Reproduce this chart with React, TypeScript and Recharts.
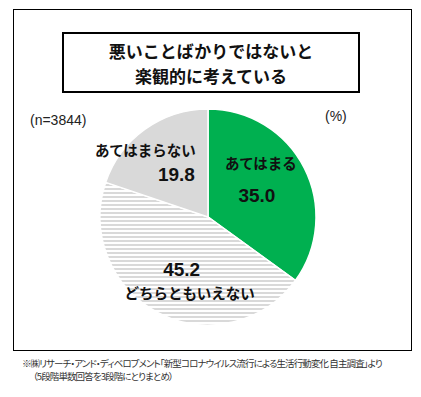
import { PieChart, Pie, Cell } from 'recharts';

// 悪いことばかりではないと楽観的に考えている (n=3844, %)
const categories = ['あてはまる', 'どちらともいえない', 'あてはまらない'];
const values = [35.0, 45.2, 19.8];
const fills = ['#00b050', 'url(#stripes)', '#d9d9d9'];

const pieData = categories.map((name, i) => ({ name, value: values[i] }));

// label placement: anchor on the slice bisector, then nudge name/value
const labelLayout = [
  { k: 0.55, name: [0, -28], value: [-4, 5] },
  { k: 0.55, name: [9, 23], value: [1, 0] },
  { k: 0.55, name: [-28, -19], value: [3, 6] },
];

const RAD = Math.PI / 180;
const jp = '"Noto Sans CJK JP", sans-serif';
const num = '"Liberation Sans", Arial, sans-serif';

const renderLabel = (props: any) => {
  const { cx, cy, midAngle, outerRadius, index } = props;
  const lay = labelLayout[index];
  const r = outerRadius * lay.k;
  const ax = cx + r * Math.cos(-midAngle * RAD);
  const ay = cy + r * Math.sin(-midAngle * RAD);
  return (
    <g>
      <text
        x={ax + lay.name[0]}
        y={ay + lay.name[1]}
        textAnchor="middle"
        dominantBaseline="central"
        fontFamily={jp}
        fontWeight="bold"
        fontSize={14.5}
        fill="#111"
      >
        {categories[index]}
      </text>
      <text
        x={ax + lay.value[0]}
        y={ay + lay.value[1]}
        textAnchor="middle"
        dominantBaseline="central"
        fontFamily={num}
        fontWeight="bold"
        fontSize={19}
        fill="#111"
      >
        {values[index].toFixed(1)}
      </text>
    </g>
  );
};

export default function App() {
  return (
    <div style={{ position: 'absolute', left: 0, top: 0, width: 421, height: 397, background: '#fff', fontFamily: jp }}>
      <div style={{ position: 'absolute', left: 13, top: 9, width: 397, height: 340, border: '1px solid #000' }} />

      <div style={{ position: 'absolute', left: 0, top: 0 }}>
        <PieChart width={421} height={397} margin={{ top: 0, right: 0, bottom: 0, left: 0 }}>
          <defs>
            <pattern id="stripes" width={4} height={4} patternUnits="userSpaceOnUse">
              <rect x={0} y={0} width={4} height={4} fill="#fff" />
              <rect x={0} y={0} width={4} height={2} fill="#d9d9d9" />
            </pattern>
          </defs>
          <Pie
            data={pieData}
            dataKey="value"
            cx={208}
            cy={217}
            outerRadius={108}
            startAngle={90}
            endAngle={-270}
            stroke="#fff"
            strokeWidth={1.5}
            labelLine={false}
            label={renderLabel}
            isAnimationActive={false}
          >
            {pieData.map((_, idx) => (
              <Cell key={idx} fill={fills[idx]} />
            ))}
          </Pie>
        </PieChart>
      </div>

      <div
        style={{
          position: 'absolute',
          left: 62,
          top: 32,
          width: 294,
          height: 57,
          border: '2px solid #000',
          background: '#fff',
          display: 'flex',
          flexDirection: 'column',
          alignItems: 'center',
          justifyContent: 'center',
          fontWeight: 'bold',
          fontSize: 17,
          lineHeight: '25px',
          color: '#111',
        }}
      >
        <div>悪いことばかりではないと</div>
        <div>楽観的に考えている</div>
      </div>

      <div style={{ position: 'absolute', left: 30, top: 112, fontSize: 14, color: '#222', fontFamily: num }}>(n=3844)</div>
      <div style={{ position: 'absolute', left: 325, top: 108, fontSize: 14, color: '#222', fontFamily: num }}>(%)</div>

      <div
        style={{
          position: 'absolute',
          left: 22,
          top: 357,
          fontSize: 9.5,
          lineHeight: '13px',
          letterSpacing: -0.9,
          color: '#333',
          fontFeatureSettings: '"palt"',
          whiteSpace: 'nowrap',
        }}
      >
        <div>※㈱リサーチ・アンド・ディベロプメント「新型コロナウイルス流行による生活行動変化 自主調査」より</div>
        <div style={{ paddingLeft: 11 }}>（5段階単数回答を3段階にとりまとめ）</div>
      </div>
    </div>
  );
}
